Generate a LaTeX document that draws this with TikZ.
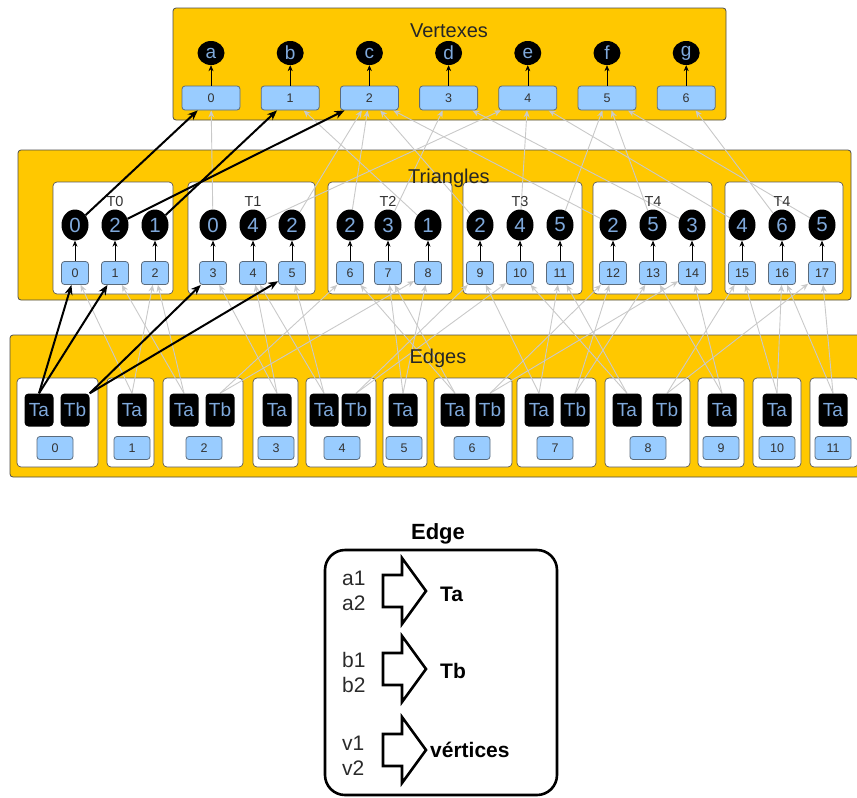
\documentclass[tikz,border=0pt]{standalone}
\usepackage{fontspec}
\setmainfont{Liberation Sans}
\usetikzlibrary{shapes.geometric,arrows.meta,calc}
\definecolor{panelY}{HTML}{FFC800}
\definecolor{idxBlue}{HTML}{99CCFF}
\definecolor{idxLine}{HTML}{5B6B7B}
\definecolor{lblue}{HTML}{7FA9DC}
\definecolor{glinec}{HTML}{C9C9C9}
\definecolor{legtext}{HTML}{2A2A2A}
\pgfdeclarelayer{bg}
\pgfdeclarelayer{lines}
\pgfsetlayers{bg,lines,main}
\newcommand\myfs[1]{\fontsize{#1}{#1}\selectfont}
\begin{document}
\begin{tikzpicture}[x=1pt,y=-1pt,
  panel/.style={fill=panelY, draw=gray!60!black, line width=0.8pt, rounded corners=3pt},
  inbox/.style={fill=white, draw=gray!70!black, line width=0.7pt, rounded corners=4pt},
  idx/.style={draw=idxLine, fill=idxBlue, line width=0.8pt, rounded corners=3pt, inner sep=0pt, font=\myfs{12.5}, text=black!80},
  vidx/.style={idx, minimum width=58pt, minimum height=24pt},
  tidx/.style={idx, minimum width=27pt, minimum height=23pt},
  eidx/.style={idx, minimum width=36pt, minimum height=23pt},
  vcirc/.style={ellipse, fill=black, minimum width=27pt, minimum height=24pt, inner sep=0pt, text=lblue, font=\myfs{19}},
  tcirc/.style={ellipse, fill=black, minimum width=27pt, minimum height=31pt, inner sep=0pt, text=lblue, font=\myfs{20.5}},
  tab/.style={fill=black, rounded corners=4pt, minimum width=29pt, minimum height=33pt, inner sep=0pt, text=lblue, font=\myfs{19}},
  title/.style={font=\myfs{20}, text=black!85, anchor=base, inner sep=0pt},
  tlabel/.style={font=\myfs{14.5}, text=black!80, anchor=base, inner sep=0pt},
  uparrow/.style={-{Stealth[length=6pt,width=5pt]}, line width=0.6pt, black},
  garrow/.style={glinec, line width=0.9pt, -{Stealth[length=7pt,width=6pt]}},
  barrow/.style={black, line width=2pt, -{Stealth[length=10pt,width=8pt]}},
  legtxt/.style={font=\myfs{21}, text=legtext, anchor=base west, inner sep=0pt},
  legbold/.style={font=\myfs{21}\bfseries, text=black, anchor=base west, inner sep=0pt},
  blockarrow/.style={draw=black, fill=white, line width=2.6pt, line join=miter}
]
\useasboundingbox (0,0) rectangle (857,798);

% ---------- panels ----------
\begin{pgfonlayer}{bg}
  \draw[panel] (173,8) rectangle (726,120);
  \draw[panel] (18,150) rectangle (851,300);
  \draw[panel] (10,335) rectangle (866,477);
  \foreach \l/\r in {53/173,188/315,328/452,463/582,593/712,725/843}
    \draw[inbox] (\l,182) rectangle (\r,294);
  \foreach \l/\r in {17/98,107/154,163/243,253/298,306/376,383/427,434/512,517/596,605/690,698/744,753/801,810/858}
    \draw[inbox] (\l,378) rectangle (\r,467);
\end{pgfonlayer}

\node[title] (tV) at (449,37) {Vertexes};
\node[title] (tT) at (449,183) {Triangles};
\node[title] (tE) at (438,363) {Edges};

% ---------- vertexes ----------
\foreach \i/\l in {0/a,1/b,2/c,3/d,4/e,5/f,6/g}{
  \node[vidx] (v\i) at ({211+79.2*\i},98) {\i};
  \node[vcirc] (vc\i) at ({211+79.2*\i},53) {\l};
  \draw[uparrow] (v\i) -- (vc\i);
}

% ---------- triangles ----------
\foreach \j/\x/\val in {0/75/0,1/115/2,2/155/1,3/213/0,4/253/4,5/292/2,6/350/2,7/388/3,8/428/1,9/480/2,10/520/4,11/560/5,12/613/2,13/653/5,14/692/3,15/742/4,16/782/6,17/822/5}{
  \node[tidx] (tb\j) at (\x,273) {\j};
  \node[tcirc] (tc\j) at (\x,225) {\val};
  \draw[uparrow] (tb\j) -- (tc\j);
}
\foreach \n/\x/\t in {0/115/T0,1/253/T1,2/388/T2,3/520/T3,4/653/T4,5/782/T4}
  \node[tlabel] (tl\n) at (\x,206) {\t};

% ---------- edges ----------
\foreach \k/\xa/\xi in {0/39/55,1/132/132,2/184/204,3/277/276,4/324/342,5/403/404,6/455/472,7/539/555,8/627/648,9/722/721,10/777/777,11/833/833}{
  \node[tab] (ea\k) at (\xa,410) {Ta};
  \node[eidx] (ei\k) at (\xi,448) {\k};
}
\foreach \k/\xb in {0/75,2/220,4/356,6/490,7/575,8/667}
  \node[tab] (eb\k) at (\xb,410) {Tb};

% ---------- gray references ----------
\begin{pgfonlayer}{lines}
  \foreach \j/\val in {3/0,4/4,5/2,6/2,7/3,8/1,9/2,10/4,11/5,12/2,13/5,14/3,15/4,16/6,17/5}
    \draw[garrow] (tc\j) -- (v\val);
  \foreach \k/\p/\q in {1/0/2,2/1/2,3/3/4,4/4/5,5/7/8,6/6/7,7/9/11,8/10/11,9/13/14,10/15/16,11/16/17}{
    \draw[garrow] (ea\k.north) -- (tb\p);
    \draw[garrow] (ea\k.north) -- (tb\q);
  }
  \foreach \k/\p/\q in {2/6/8,4/9/10,6/12/14,7/12/13,8/15/17}{
    \draw[garrow] (eb\k.north) -- (tb\p);
    \draw[garrow] (eb\k.north) -- (tb\q);
  }
\end{pgfonlayer}

% ---------- black highlighted references ----------
\draw[barrow] (tc0) -- (v0);
\draw[barrow] (tc1) -- (v2);
\draw[barrow] (tc2) -- (v1);
\draw[barrow] (ea0.north) -- (tb0);
\draw[barrow] (ea0.north) -- (tb1);
\draw[barrow] (eb0.north east) -- (tb3);
\draw[barrow] (eb0.north east) -- (tb5);

% ---------- legend ----------
\node[font=\myfs{22}\bfseries, anchor=base, inner sep=0pt] (legT) at (438,539) {Edge};
\draw[line width=2.6pt, rounded corners=20pt] (325,550) rectangle (557,795);
\node[legtxt] (la1) at (342,585) {a1};
\node[legtxt] (la2) at (342,610) {a2};
\node[legtxt] (lb1) at (342,667) {b1};
\node[legtxt] (lb2) at (342,692) {b2};
\node[legtxt] (lv1) at (342,750) {v1};
\node[legtxt] (lv2) at (342,775) {v2};
\foreach \c in {591,669,750}
  \draw[blockarrow] (383,\c-16) -- (402,\c-16) -- (402,\c-33) -- (426,\c) -- (402,\c+33) -- (402,\c+16) -- (383,\c+16) -- cycle;
\node[legbold] (lTa) at (440,601) {Ta};
\node[legbold] (lTb) at (440,678) {Tb};
\node[legbold] (lVe) at (430,757) {vértices};
\end{tikzpicture}
\end{document}
